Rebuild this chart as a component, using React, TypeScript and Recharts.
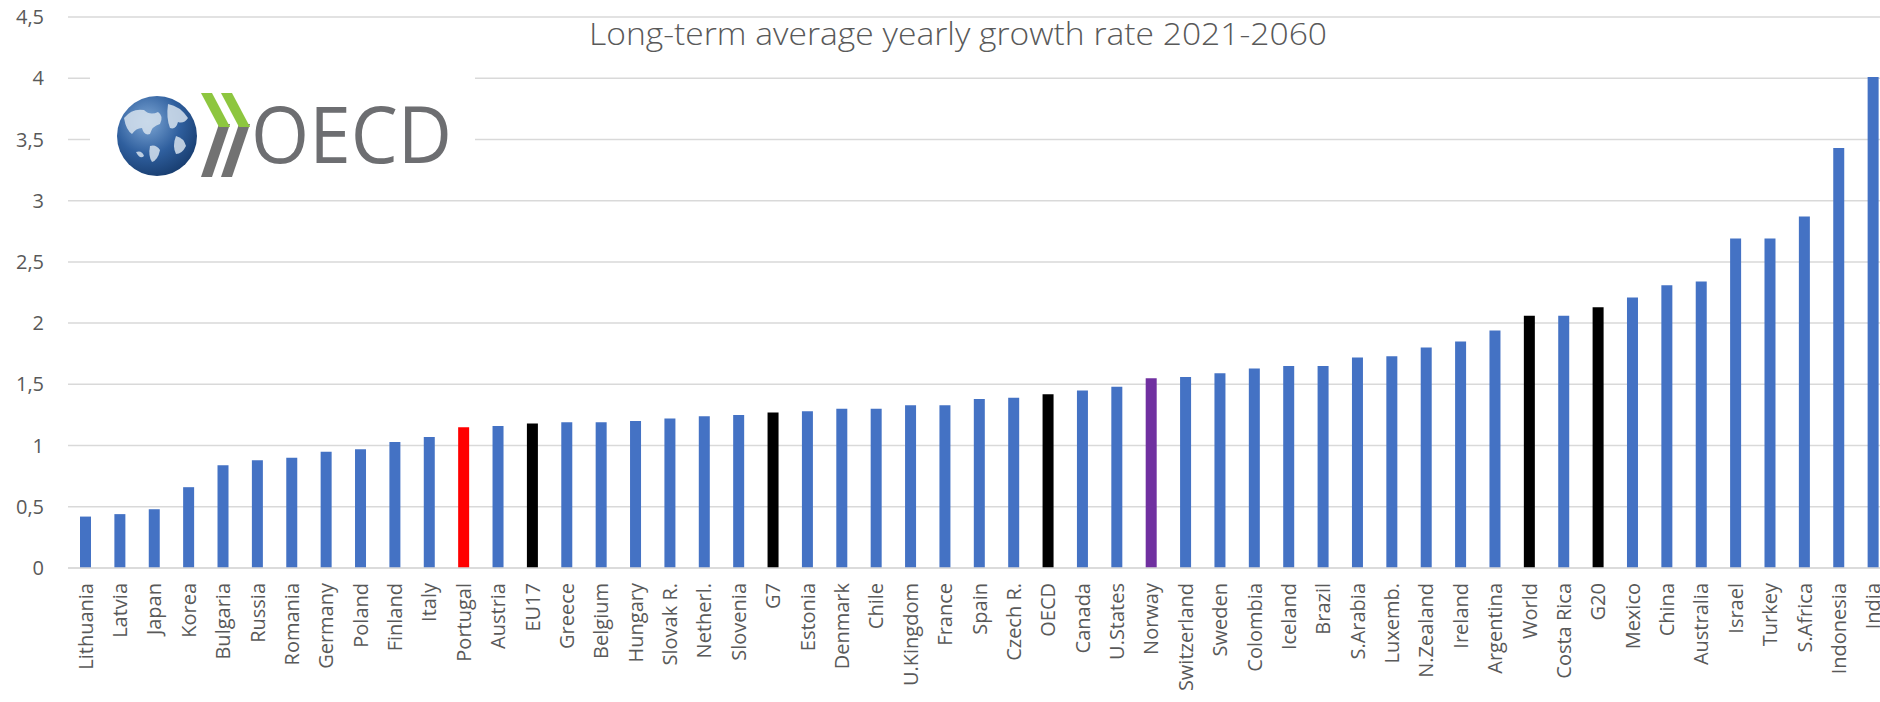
import { Bar, BarChart, CartesianGrid, Cell, XAxis, YAxis } from "recharts";

const COUNTRIES = [
  'Lithuania', 'Latvia', 'Japan', 'Korea', 'Bulgaria', 'Russia', 'Romania', 'Germany', 'Poland', 'Finland',
  'Italy', 'Portugal', 'Austria', 'EU17', 'Greece', 'Belgium', 'Hungary', 'Slovak R.', 'Netherl.', 'Slovenia',
  'G7', 'Estonia', 'Denmark', 'Chile', 'U.Kingdom', 'France', 'Spain', 'Czech R.', 'OECD', 'Canada',
  'U.States', 'Norway', 'Switzerland', 'Sweden', 'Colombia', 'Iceland', 'Brazil', 'S.Arabia', 'Luxemb.', 'N.Zealand',
  'Ireland', 'Argentina', 'World', 'Costa Rica', 'G20', 'Mexico', 'China', 'Australia', 'Israel', 'Turkey',
  'S.Africa', 'Indonesia', 'India',
];

const GROWTH = [
  0.42, 0.44, 0.48, 0.66, 0.84, 0.88, 0.9, 0.95, 0.97, 1.03,
  1.07, 1.15, 1.16, 1.18, 1.19, 1.19, 1.2, 1.22, 1.24, 1.25,
  1.27, 1.28, 1.3, 1.3, 1.33, 1.33, 1.38, 1.39, 1.42, 1.45,
  1.48, 1.55, 1.56, 1.59, 1.63, 1.65, 1.65, 1.72, 1.73, 1.8,
  1.85, 1.94, 2.06, 2.06, 2.13, 2.21, 2.31, 2.34, 2.69, 2.69,
  2.87, 3.43, 4.01,
];

const Y_TICKS = [0, 0.5, 1, 1.5, 2, 2.5, 3, 3.5, 4, 4.5];

const TITLE = 'Long-term average yearly growth rate 2021-2060';

// bar colours that differ from the default blue
const BLUE = '#4472C4';
const HIGHLIGHT: Record<string, string> = {
  Portugal: '#FF0000',
  EU17: '#000000',
  G7: '#000000',
  OECD: '#000000',
  World: '#000000',
  G20: '#000000',
  Norway: '#7030A0',
};

const TEXT = '#595959';
const GRID = '#D9D9D9';
const FONT = '"Open Sans", sans-serif';

const data = COUNTRIES.map((name, i) => ({ name, value: GROWTH[i] }));

function CountryTick(props: any) {
  const { x, y, payload } = props;
  return (
    <text
      transform={`translate(${x},${y + 15}) rotate(-90)`}
      textAnchor="end"
      dominantBaseline="central"
      fill={TEXT}
      fontSize={20}
      fontFamily={FONT}
    >
      {payload.value}
    </text>
  );
}

function Chevron({ x0 }: { x0: number }) {
  const w = 11;
  const dx = 18;
  return (
    <g>
      <polygon points={`${x0},177 ${x0 + w},177 ${x0 + w + dx},124 ${x0 + dx},124`} fill="#727272" />
      <polygon points={`${x0},93 ${x0 + w},93 ${x0 + w + dx},127 ${x0 + dx},127`} fill="#8DC63F" />
    </g>
  );
}

function Logo() {
  return (
    <g>
      <defs>
        <radialGradient id="globe" cx="38%" cy="32%" r="75%">
          <stop offset="0%" stopColor="#7FA8D6" />
          <stop offset="55%" stopColor="#2F5F9E" />
          <stop offset="100%" stopColor="#163A6B" />
        </radialGradient>
      </defs>
      {/* white patch hides the gridlines behind the logo */}
      <rect x={90} y={55} width={385} height={135} fill="#fff" />
      <circle cx={157} cy={136} r={40} fill="url(#globe)" />
      <g fill="#D6E2EE" opacity={0.85}>
        <path d="M124,118 q8,-10 20,-8 q6,6 14,2 q6,4 2,12 q-8,2 -10,10 q-6,2 -8,-6 q-6,0 -10,6 q-6,-4 -8,-16z" />
        <path d="M150,146 q6,-2 10,4 q-2,10 -8,12 q-4,-6 -2,-16z" />
        <path d="M168,104 q12,2 20,14 q-4,6 -10,4 q-2,8 -8,6 q-4,-10 -2,-24z" />
        <path d="M176,136 q8,2 10,10 q-4,8 -10,8 q-4,-8 0,-18z" />
        <path d="M136,152 q6,-2 8,4 q-4,4 -8,-4z" />
      </g>
      <Chevron x0={201} />
      <Chevron x0={221} />
      <text x={251} y={163} fontSize={78} fontFamily={FONT} fill="#6D6E71" textLength={201} lengthAdjust="spacingAndGlyphs">
        OECD
      </text>
    </g>
  );
}

export default function App() {
  return (
    <div style={{ position: 'absolute', left: 0, top: 0, width: 1880, height: 702, overflow: 'hidden', background: '#fff' }}>
      <BarChart width={1890} height={702} data={data} margin={{ top: 17, right: 0, bottom: 0, left: 0 }}>
        <CartesianGrid vertical={false} stroke={GRID} strokeWidth={1.5} />
        <XAxis
          dataKey="name"
          interval={0}
          height={134}
          tickLine={false}
          tickSize={0}
          tickMargin={0}
          axisLine={{ stroke: GRID, strokeWidth: 1.5 }}
          tick={<CountryTick />}
        />
        <YAxis
          width={68}
          domain={[0, 4.5]}
          ticks={Y_TICKS}
          interval={0}
          axisLine={false}
          tickLine={false}
          tickSize={0}
          tickMargin={24}
          tick={{ fill: TEXT, fontSize: 20, fontFamily: FONT }}
          tickFormatter={(v: number) => String(v).replace('.', ',')}
        />
        <Bar dataKey="value" barSize={11} isAnimationActive={false}>
          {data.map((d) => (
            <Cell key={d.name} fill={HIGHLIGHT[d.name] ?? BLUE} />
          ))}
        </Bar>
      </BarChart>
      <svg width={1880} height={702} style={{ position: 'absolute', left: 0, top: 0, pointerEvents: 'none' }}>
        <Logo />
        <text
          x={958}
          y={45}
          textAnchor="middle"
          fontSize={31}
          fontWeight={300}
          fontFamily={FONT}
          fill={TEXT}
          textLength={738}
          lengthAdjust="spacingAndGlyphs"
        >
          {TITLE}
        </text>
      </svg>
    </div>
  );
}
